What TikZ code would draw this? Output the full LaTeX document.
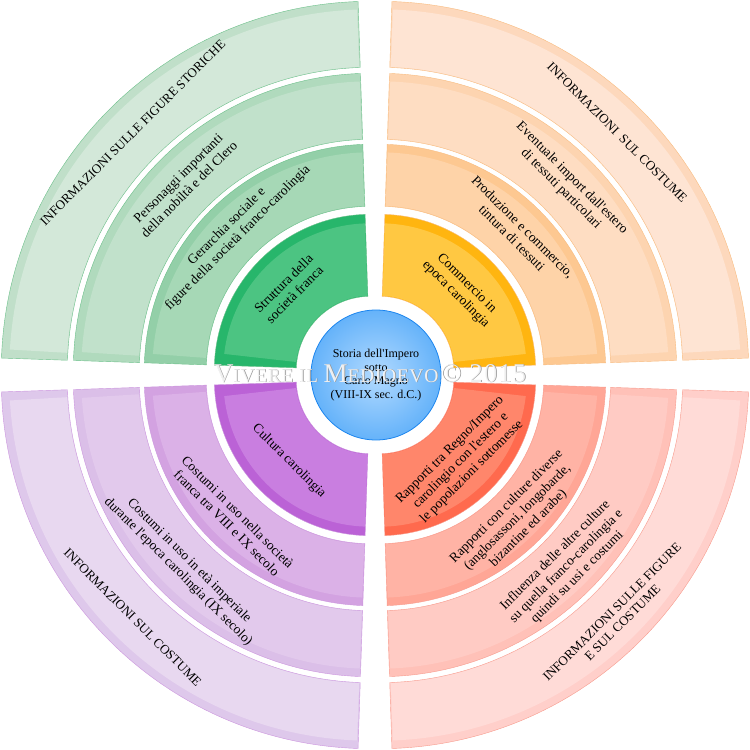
\documentclass[tikz,border=0pt]{standalone}
\usepackage{fontspec}
\setmainfont{Liberation Serif}[Ligatures=TeXOff]
\usepackage{xcolor}
\definecolor{gAd}{HTML}{27B66B}
\definecolor{gAl}{HTML}{4CC482}
\definecolor{gBd}{HTML}{93CFA8}
\definecolor{gBl}{HTML}{A6D8B6}
\definecolor{gCd}{HTML}{B0DABD}
\definecolor{gCl}{HTML}{C1E1CB}
\definecolor{gDd}{HTML}{C0DFC9}
\definecolor{gDl}{HTML}{D3E8D9}
\definecolor{gline}{HTML}{6CC08A}
\definecolor{oAd}{HTML}{FFB510}
\definecolor{oAl}{HTML}{FFC842}
\definecolor{oBd}{HTML}{FDC891}
\definecolor{oBl}{HTML}{FED3A8}
\definecolor{oCd}{HTML}{FDD4B0}
\definecolor{oCl}{HTML}{FEDDC2}
\definecolor{oDd}{HTML}{FDD8BC}
\definecolor{oDl}{HTML}{FEE4D3}
\definecolor{oline}{HTML}{F8BC80}
\definecolor{pAd}{HTML}{BB62D6}
\definecolor{pAl}{HTML}{C97EE0}
\definecolor{pBd}{HTML}{D3A2E1}
\definecolor{pBl}{HTML}{DBB1E7}
\definecolor{pCd}{HTML}{DBBFE8}
\definecolor{pCl}{HTML}{E2C9EC}
\definecolor{pDd}{HTML}{DEC8EB}
\definecolor{pDl}{HTML}{E8D8F0}
\definecolor{pline}{HTML}{CC96DE}
\definecolor{rAd}{HTML}{FF6A4E}
\definecolor{rAl}{HTML}{FF866B}
\definecolor{rBd}{HTML}{FFA696}
\definecolor{rBl}{HTML}{FFB3A5}
\definecolor{rCd}{HTML}{FFC1B8}
\definecolor{rCl}{HTML}{FFCBC4}
\definecolor{rDd}{HTML}{FFCFCA}
\definecolor{rDl}{HTML}{FFDBD7}
\definecolor{rline}{HTML}{F79C8E}
\definecolor{blueA}{HTML}{B2DAFF}
\definecolor{blueB}{HTML}{5CAEF9}
\definecolor{blueC}{HTML}{1A84EE}
\pgfdeclareradialshading{centreblue}{\pgfpoint{0bp}{0bp}}{color(0bp)=(blueA); color(28bp)=(blueB); color(50bp)=(blueC)}
\newcommand{\ringpart}[5]{\fill[#5] (#1:#4) arc[start angle=#1, end angle=#2, radius=#4] -- (#2:#3) arc[start angle=#2, end angle=#1, radius=#3] -- cycle;}
\newcommand{\vivere}{{\fontsize{27}{27}\selectfont V}{\fontsize{19.5}{19.5}\selectfont IVERE IL }{\fontsize{27}{27}\selectfont M}{\fontsize{19.5}{19.5}\selectfont EDIOEVO} {\fontsize{27}{27}\selectfont © 2015}}

\begin{document}
\begin{tikzpicture}[x=1pt, y=1pt,
    lbl/.style={font=\fontsize{13.5}{15.5}\selectfont, align=center, text=black},
    caps/.style={font=\fontsize{13}{15}\selectfont, align=center, text=black},
    wmark/.style={inner sep=0pt, anchor=base, font=\addfontfeatures{LetterSpace=3.5}},
]
\useasboundingbox (-375,-375) rectangle (375,375);

% verde
\begin{scope}[shift={(-4.7,4.7)}]
\ringpart{91.9}{178.1}{74}{156}{gAd, draw=gline}
\ringpart{92.1}{173.6}{74.6}{147}{gAl}
\ringpart{91.9}{178.1}{164}{226}{gBd, draw=gline}
\ringpart{92.1}{175.7}{164.6}{218}{gBl}
\ringpart{91.9}{178.1}{231}{297}{gCd, draw=gline}
\ringpart{92.1}{176.4}{231.6}{289}{gCl}
\ringpart{91.9}{178.1}{303}{369}{gDd, draw=gline}
\ringpart{92.1}{176.7}{303.6}{361}{gDl}
\node[lbl, rotate=45] (struttura) at (135:115) {Struttura della\\società franca};
\node[lbl, rotate=45] (gerarchia) at (135:195) {Gerarchia sociale e\\figure della società franco-carolingia};
\node[lbl, rotate=45] (personaggi) at (135:264) {Personaggi importanti\\della nobiltà e del Clero};
\node[caps, rotate=45] (infofigure) at (135:336) {INFORMAZIONI SULLE FIGURE STORICHE};
\end{scope}

% arancio
\begin{scope}[shift={(4.7,4.7)}]
\ringpart{1.9}{88.1}{74}{156}{oAd, draw=oline}
\ringpart{6.4}{87.9}{74.6}{147}{oAl}
\ringpart{1.9}{88.1}{164}{226}{oBd, draw=oline}
\ringpart{4.3}{87.9}{164.6}{218}{oBl}
\ringpart{1.9}{88.1}{231}{297}{oCd, draw=oline}
\ringpart{3.6}{87.9}{231.6}{289}{oCl}
\ringpart{1.9}{88.1}{303}{369}{oDd, draw=oline}
\ringpart{3.3}{87.9}{303.6}{361}{oDl}
\node[lbl, rotate=-45] (commercio) at (45:115) {Commercio in\\epoca carolingia};
\node[lbl, rotate=-45] (produzione) at (45:195) {Produzione e commercio,\\tintura di tessuti};
\node[lbl, rotate=-45] (importtess) at (45:264) {Eventuale import dall'estero\\di tessuti particolari};
\node[caps, rotate=-45] (infocosto) at (45:336) {INFORMAZIONI\ \ SUL COSTUME};
\end{scope}

% viola
\begin{scope}[shift={(-4.7,-4.7)}]
\ringpart{181.9}{268.1}{74}{156}{pAd, draw=pline}
\ringpart{186.4}{267.9}{74.6}{147}{pAl}
\ringpart{181.9}{268.1}{164}{226}{pBd, draw=pline}
\ringpart{184.2}{267.9}{164.6}{218}{pBl}
\ringpart{181.9}{268.1}{231}{297}{pCd, draw=pline}
\ringpart{183.6}{267.9}{231.6}{289}{pCl}
\ringpart{181.9}{268.1}{303}{369}{pDd, draw=pline}
\ringpart{183.3}{267.9}{303.6}{361}{pDl}
\node[lbl, rotate=-45] (cultura) at (225:115) {Cultura carolingia};
\node[lbl, rotate=-45] (costfranca) at (225:195) {Costumi in uso nella società\\franca tra VIII e IX secolo};
\node[lbl, rotate=-45] (costimper) at (225:264) {Costumi in uso in età imperiale\\durante l'epoca carolingia (IX secolo)};
\node[caps, rotate=-45] (infocostv) at (225:336) {INFORMAZIONI SUL COSTUME};
\end{scope}

% rosso
\begin{scope}[shift={(4.7,-4.7)}]
\ringpart{271.9}{358.1}{74}{156}{rAd, draw=rline}
\ringpart{272.1}{353.6}{74.6}{147}{rAl}
\ringpart{271.9}{358.1}{164}{226}{rBd, draw=rline}
\ringpart{272.1}{355.8}{164.6}{218}{rBl}
\ringpart{271.9}{358.1}{231}{297}{rCd, draw=rline}
\ringpart{272.1}{356.4}{231.6}{289}{rCl}
\ringpart{271.9}{358.1}{303}{369}{rDd, draw=rline}
\ringpart{272.1}{356.7}{303.6}{361}{rDl}
\node[lbl, rotate=45] (rapporti) at (315:115) {Rapporti tra Regno/Impero\\carolingio con l'estero e\\le popolazioni sottomesse};
\node[lbl, rotate=45] (culture) at (315:195) {Rapporti con culture diverse\\(anglosassoni, longobarde,\\bizantine ed arabe)};
\node[lbl, rotate=45] (influenza) at (315:264) {Influenza delle altre culture\\su quella franco-carolingia e\\quindi su usi e costumi};
\node[caps, rotate=45] (infofigcost) at (315:336) {INFORMAZIONI SULLE FIGURE\\E SUL COSTUME};
\end{scope}

\node[circle, minimum size=130pt, inner sep=0pt, shading=centreblue, draw=blueC, line width=0.8pt,
    align=center, font=\fontsize{12}{13.5}\selectfont] (storia) at (1,0) {Storia dell'Impero\\sotto\\Carlo Magno\\(VIII-IX sec. d.C.)};

% filigrana
\node[wmark, text=gray!85] (viverebg) at (-4.3,-7.7) {\vivere};
\node[wmark, text=white, opacity=0.85] (vivere) at (-5,-7) {\vivere};
\end{tikzpicture}
\end{document}
